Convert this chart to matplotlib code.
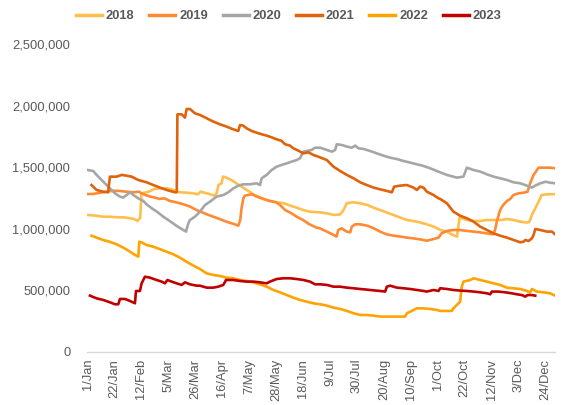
import numpy as np
import matplotlib
matplotlib.use("Agg")
import matplotlib.pyplot as plt

# ---- data (day-of-year index, value in thousands) ----
tick_days = [0, 21, 42, 63, 84, 105, 126, 147, 168, 189, 210, 231, 252, 273, 294, 315, 336, 357]
tick_labels = ["1/Jan", "22/Jan", "12/Feb", "5/Mar", "26/Mar", "16/Apr", "7/May", "28/May",
               "18/Jun", "9/Jul", "30/Jul", "20/Aug", "10/Sep", "1/Oct", "22/Oct", "12/Nov",
               "3/Dec", "24/Dec"]

d2018 = [0, 7, 12, 17, 23, 28, 33, 36, 39, 41, 42, 46, 49, 52, 56, 62, 67, 72, 77, 82, 86,
         88, 93, 99, 100.6, 102, 104.5, 105.5, 108, 112, 116, 120, 124, 127, 129, 133, 137, 142,
         147, 153, 158, 163, 168, 173, 181, 186.5, 192, 197, 199.5, 202, 207, 212.5, 218, 223,
         228, 233, 238.5, 244, 249, 254, 259, 264.5, 270, 275, 280, 285, 288, 289, 290, 296,
         301, 306, 311, 316.5, 322, 327, 332, 337, 342.5, 344.5, 346.4, 349, 351.6, 354, 358, 364]
v2018 = [1112, 1106, 1098, 1098, 1093, 1093, 1085, 1080, 1063, 1090, 1288, 1296, 1307, 1323,
         1328, 1328, 1315, 1296, 1293, 1288, 1280,
         1301, 1288, 1269, 1288, 1355, 1369, 1423, 1415, 1396, 1369, 1342, 1315, 1296, 1280,
         1261, 1242, 1226, 1215, 1207, 1188, 1171, 1152, 1139, 1133, 1125, 1112, 1117, 1152,
         1207, 1215, 1207, 1193, 1171, 1152, 1133, 1112, 1090, 1071, 1063, 1052, 1036, 1017,
         990, 977, 949, 936, 1017, 1090, 1071, 1063, 1063, 1071, 1071, 1071, 1079, 1071, 1058,
         1050, 1058, 1112, 1166, 1220, 1274, 1280, 1280]

d2019 = [0, 4, 10, 15, 20, 25, 30, 36, 40, 42, 45, 49, 52.5, 56, 60, 64, 69, 75, 80, 85,
         88, 93, 98, 103, 108, 114, 116, 117.5, 119, 120, 121.4, 122.7, 125, 128, 132, 137, 142,
         147, 150, 154, 159, 163, 168, 173, 178.6, 181, 186.5, 192, 194, 195.5, 198, 202, 204.7,
         206, 208.6, 212.5, 218, 223, 228, 233, 238.5, 244, 249, 254, 259, 264.5, 270, 273.6,
         276, 280, 285, 290, 296, 301, 306, 311, 316.5, 318, 319, 321.6, 324, 327, 329.5, 332,
         336, 340, 343, 345, 347.7, 351.6, 355.5, 360.6, 364.5]
v2019 = [1282, 1282, 1293, 1301, 1309, 1307, 1301, 1296, 1301, 1288, 1274, 1261, 1253, 1242,
         1247, 1226, 1215, 1198, 1179, 1152,
         1139, 1117, 1098, 1079, 1058, 1039, 1031, 1025, 1071, 1166, 1247, 1269, 1274, 1280,
         1261, 1242, 1226, 1215, 1193, 1152, 1125, 1098, 1071, 1036, 1009, 1004, 977, 949, 936,
         990, 1004, 977, 971, 1017, 1036, 1036, 1025, 1004, 977, 955, 944, 936, 928, 922, 914,
         903, 917, 928, 963, 982, 990, 990, 982, 977, 971, 963, 955, 1004, 1058, 1152, 1193,
         1226, 1242, 1274, 1288, 1293, 1301, 1369, 1437, 1496, 1496, 1496, 1491]

d2020 = [0, 4.4, 7, 9.6, 13.5, 17.4, 21.3, 25.2, 27.8, 30.4, 33, 35.6, 39.5, 43.4, 46, 50, 54,
         59, 64, 69.4, 73.3, 76.7, 78.5, 79.8, 83.7,
         87.6, 91.5, 95.4, 100.6, 105.8, 109.7, 113.6, 117.5, 121.4, 126.6, 131.8, 134.4, 135.7,
         139.6, 143.5, 147.4, 151.3, 155.2, 159.1, 163, 165.6, 168.2, 170.8, 174.7, 177.3,
         181.3, 186.5, 190.4, 193, 194.3, 198.2, 202.1, 206, 208.6, 211.2, 215.1, 220.3, 225.5,
         230.7, 235.9, 241.1, 246.3, 251.5, 256.7, 261.9, 267, 272.3,
         274.9, 280.1, 285.2, 287.8, 293, 295.7, 300.9, 306.1, 311.3, 316.5, 321.6, 326.9,
         332.1, 337.3, 342.5, 346.4, 349, 353, 357, 360, 364.5]
v2020 = [1477, 1469, 1437, 1410, 1369, 1328, 1288, 1261, 1253, 1274, 1296, 1274, 1247, 1226,
         1198, 1166, 1139, 1098, 1063, 1023, 998, 977, 1044, 1071, 1098,
         1139, 1193, 1220, 1261, 1274, 1296, 1328, 1350, 1361, 1361, 1369, 1355, 1410, 1437,
         1477, 1504, 1518, 1531, 1545, 1558, 1572, 1626, 1631, 1640, 1658,
         1658, 1640, 1626, 1640, 1686, 1680, 1667, 1658, 1675, 1653, 1648, 1631, 1612, 1593,
         1577, 1566, 1550, 1537, 1523, 1510, 1491, 1469,
         1458, 1437, 1423, 1415, 1423, 1496, 1477, 1464, 1442, 1423, 1410, 1396, 1377, 1369,
         1350, 1334, 1350, 1369, 1382, 1375, 1369]

d2021 = [3, 7, 12, 16, 17.4, 22.6, 26.5, 30.4, 34.3, 39.5, 46, 51.2, 56.4, 61.6, 68.1, 69.5,
         70, 73.3, 75.9, 77.2, 79.8, 83.7,
         87.6, 92.8, 98, 103.2, 108.4, 113.6, 117.5, 118.8, 121.4, 124, 127.9, 131.8, 135.7,
         139.6, 143.5, 147.4, 151.3, 153.9, 157.8, 160.4, 164.3, 168.2, 172.1, 176, 179.9,
         186.5, 191.7, 196.9, 202.1, 207.3, 212.5, 217.7, 222.9, 228.1, 233.3, 237.2, 239,
         243.7, 248.9, 254.1, 256.7, 259.3, 261.9, 264.5, 269.7, 273.6,
         274.9, 280.1, 285.2, 290.4, 295.7, 300.9, 306.1, 311.3, 316.5, 321.6, 326.9, 332.1,
         337.3, 339.9, 341.2, 343.8, 346.4, 347.7, 349, 352.9, 358.1, 362, 364.5]
v2021 = [1355, 1315, 1301, 1296, 1423, 1423, 1437, 1431, 1423, 1396, 1377, 1355, 1334, 1315,
         1296, 1296, 1929, 1929, 1902, 1972, 1972, 1937,
         1924, 1897, 1870, 1848, 1829, 1807, 1794, 1842, 1837, 1815, 1794, 1780, 1767, 1756,
         1742, 1726, 1713, 1686, 1675, 1653, 1634, 1612, 1621, 1599, 1585,
         1558, 1504, 1469, 1437, 1410, 1377, 1355, 1334, 1320, 1307, 1296, 1342, 1350, 1355,
         1334, 1315, 1342, 1334, 1301, 1274, 1247,
         1242, 1207, 1139, 1106, 1085, 1058, 1017, 990, 963, 944, 928, 909, 890, 895, 909, 901,
         922, 949, 998, 990, 977, 977, 955]

d2022 = [3, 7, 12, 17, 22.6, 27.8, 33, 37, 39.5, 40.3, 42, 46, 51, 56, 61.6, 66.8, 72, 77,
         82.4, 87.6, 92.8, 98, 103.2, 108.4, 113.6, 118.8, 124, 129.2, 134.4, 139.6, 144.8,
         150, 155.2, 160.4, 165.6, 170.8, 176,
         181.3, 186.5, 191.7, 196.9, 202.1, 207.3, 212.5, 217.7, 222.9, 228.1, 247.6, 248.9,
         251.5, 256.7, 261.9, 267, 272.3,
         274.9, 280.1, 284, 285.2, 287.8, 290.4, 291.7, 293, 298.3, 300.9, 306.1, 311.3, 316.5,
         321.6, 326.9, 332.1, 337.3, 342.5, 345.1, 346.4, 350.3, 355.5, 360.6, 364.5]
v2022 = [944, 928, 909, 895, 874, 847, 814, 787, 774, 895, 890, 868, 855, 836, 814, 793, 765,
         733, 701, 673, 638, 625, 617, 603, 598, 584, 576, 565, 549, 530, 503, 484, 462, 441,
         422, 408, 395,
         387, 376, 360, 349, 333, 314, 300, 300, 295, 287, 287, 314, 327, 354, 354, 349, 341,
         333, 333, 333, 354, 381, 408, 530, 571, 584, 598, 584, 571, 557, 544, 522, 517, 511,
         495, 484, 511, 490, 484, 476, 457]

d2023 = [1.8, 7, 12.2, 17.4, 21.3, 23.9, 25.2, 29.1, 33, 36.9, 37.7, 40.8, 42.1, 44.7, 48.6,
         53.8, 57.7, 60.3, 62.2, 65.5, 69.4, 73.3, 75.9, 79.8, 85,
         87.6, 92.8, 98, 101.9, 105.8, 107.9, 113.6, 118.8, 124, 129.2, 134.4, 139.6, 142.2,
         147.4, 152.6, 157.8, 163, 168.2, 173.4, 177.3,
         181.3, 186.5, 191.7, 196.9, 202.1, 207.3, 212.5, 217.7, 222.9, 228.1, 232, 233.3,
         235.9, 241.1, 246.3, 251.5, 256.7, 261.9, 264.5, 269.7, 273.6,
         274.9, 280.1, 285.2, 290.4, 295.7, 300.9, 306.1, 311.3, 313.9, 315.2, 320.4, 325.6,
         330.8, 334.7, 338.6, 341.2, 343, 346.4, 349]
v2023 = [457, 435, 422, 403, 387, 387, 430, 430, 414, 395, 495, 495, 557, 611, 603, 584, 571,
         557, 584, 571, 557, 544, 565, 549, 538,
         538, 522, 522, 530, 544, 584, 584, 576, 571, 571, 565, 557, 571, 592, 598, 598, 592,
         584, 571, 549,
         549, 544, 530, 530, 522, 517, 511, 506, 500, 495, 490, 530, 538, 522, 517, 511, 503,
         495, 490, 503, 495,
         517, 511, 503, 498, 495, 490, 484, 476, 468, 490, 490, 484, 476, 468, 462, 449, 462,
         462, 457]

series = [
    ("2018", d2018, v2018, "#FFBF4D"),
    ("2019", d2019, v2019, "#FF8A33"),
    ("2020", d2020, v2020, "#A6A6A6"),
    ("2021", d2021, v2021, "#E0620A"),
    ("2022", d2022, v2022, "#FFA300"),
    ("2023", d2023, v2023, "#C00000"),
]

TXT = "#595959"
plt.rcParams['font.family'] = ['Liberation Sans', 'DejaVu Sans']

fig = plt.figure(figsize=(5.63, 4.05), dpi=100)
ax = fig.add_axes([0.1545, 0.131, 0.8315, 0.7604])

for name, d, v, c in series:
    ax.plot(d, np.array(v) * 1000, color=c, lw=1.9, label=name, solid_joinstyle='round')

ax.set_xlim(-0.5, 364.5)
ax.set_ylim(0, 2500000)
ax.set_yticks(np.arange(0, 2500001, 500000))
ax.set_yticklabels([f"{int(t):,}" for t in np.arange(0, 2500001, 500000)])
ax.set_xticks(tick_days)
ax.set_xticklabels(tick_labels, rotation=90)
ax.tick_params(axis='both', length=0, colors=TXT, labelsize=9.3)
ax.tick_params(axis='y', pad=12)
ax.tick_params(axis='x', pad=5)

for s in ["top", "right", "left"]:
    ax.spines[s].set_visible(False)
ax.spines["bottom"].set_color("#D9D9D9")
ax.spines["bottom"].set_linewidth(1.0)

leg = fig.legend(loc="center", bbox_to_anchor=(0.513, 0.96), ncol=6, frameon=False,
                 handlelength=2.0, handletextpad=0.3, columnspacing=1.15,
                 prop={'weight': 'bold', 'size': 9.3})
for t in leg.get_texts():
    t.set_color(TXT)
for l in leg.get_lines():
    l.set_linewidth(2.5)

fig.savefig("out.png", dpi=100)
